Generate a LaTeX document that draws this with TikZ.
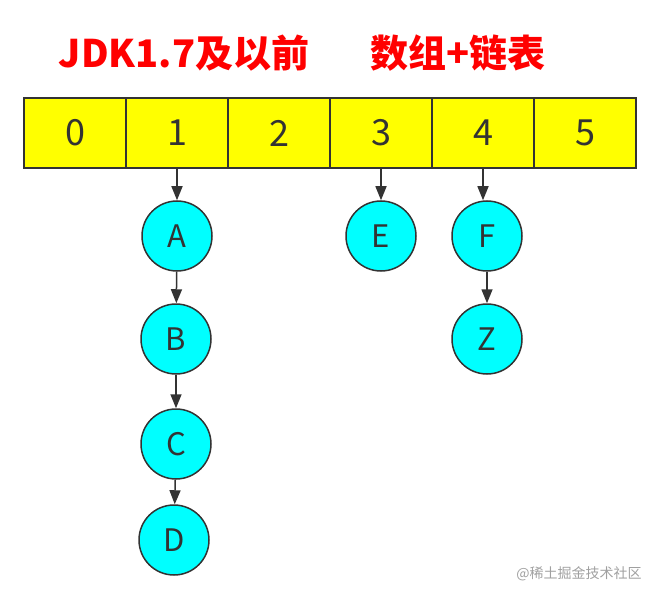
\documentclass[tikz,border=0pt]{standalone}
\usepackage{fontspec}
\newfontfamily\cjk{Noto Sans CJK SC}
\usetikzlibrary{arrows.meta}
\definecolor{cellyellow}{HTML}{FFFF00}
\definecolor{nodecyan}{HTML}{00FFFF}
\definecolor{edgegray}{HTML}{333333}
\definecolor{markgray}{HTML}{A0A0A0}
\tikzset{
	cell/.style={draw=edgegray, line width=1.5pt, fill=cellyellow, minimum width=102pt, minimum height=70pt, inner sep=0pt, text=edgegray, font=\cjk\fontsize{36}{36}\selectfont},
	entry/.style={circle, draw=edgegray, line width=1.5pt, fill=nodecyan, minimum size=70pt, inner sep=0pt, text=edgegray, font=\cjk\fontsize{31}{31}\selectfont},
	link/.style={draw=edgegray, line width=1.5pt, -{Triangle[length=14pt,width=11pt]}},
	headline/.style={text=red, inner sep=0pt, font=\cjk\bfseries\fontsize{38}{38}\selectfont},
}

\begin{document}
\begin{tikzpicture}[x=1pt, y=-1pt]
		%%%%% START %%%%%
		\useasboundingbox (0, 0) rectangle (659, 599);
		
		\node[headline] (jdk) at (184, 53) {JDK1.7及以前};
		\node[headline] (kind) at (458, 53) {数组+链表};
		
		\node[cell] (c0) at (75, 133) {0};
		\node[cell] (c1) at (177, 133) {1};
		\node[cell] (c2) at (279, 133) {2};
		\node[cell] (c3) at (381, 133) {3};
		\node[cell] (c4) at (483, 133) {4};
		\node[cell] (c5) at (585, 133) {5};
		
		\node[entry] (A) at (177, 236) {A};
		\node[entry] (B) at (176, 339) {B};
		\node[entry] (C) at (176, 444) {C};
		\node[entry] (D) at (174, 540) {D};
		\node[entry] (E) at (381, 236) {E};
		\node[entry] (F) at (487, 236) {F};
		\node[entry] (Z) at (487, 339) {Z};
		
		\draw[link] (c1.south) -- (c1.south |- A.north);
		\draw[link] (A) -- (B);
		\draw[link] (B) -- (C);
		\draw[link] (C) -- (D);
		\draw[link] (c3.south) -- (c3.south |- E.north);
		\draw[link] (c4.south) -- (c4.south |- F.north);
		\draw[link] (F) -- (Z);
		
		\node[text=markgray, font=\cjk\fontsize{14}{14}\selectfont] (mark) at (579, 574) {@稀土掘金技术社区};
		%%%%% END %%%%%
\end{tikzpicture}
\end{document}
